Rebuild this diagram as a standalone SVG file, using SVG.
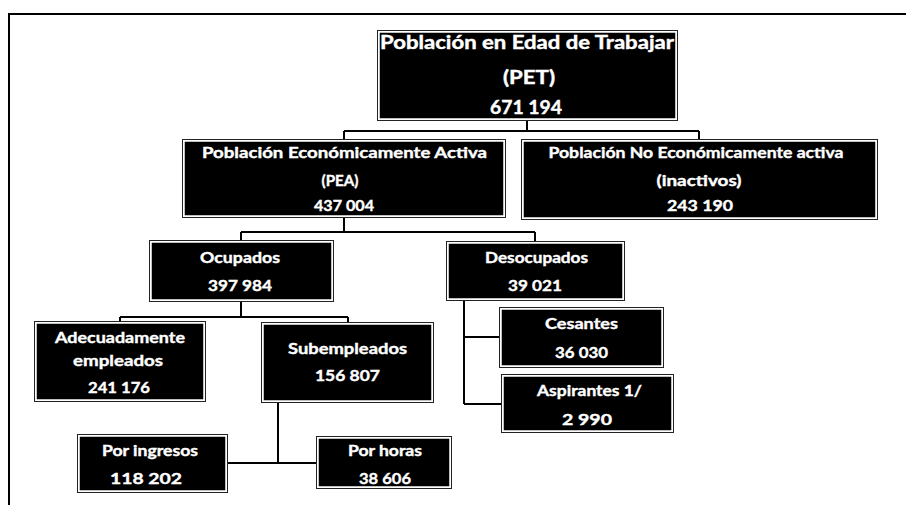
<svg xmlns="http://www.w3.org/2000/svg" width="906" height="505" viewBox="0 0 906 505">
<style>
.frame{fill:none;stroke:#000;stroke-width:2}
.outer{fill:none;stroke:#222;stroke-width:1}
.box{fill:#000;stroke:#fff;stroke-width:1.5}
.t{font-family:Lato,"Liberation Sans",sans-serif;font-weight:bold;font-size:16px;fill:#fff;stroke:#fff;stroke-width:0.4;text-anchor:middle}
.big{font-size:18px}
.conn{fill:none;stroke:#000;stroke-width:2}
</style>
<rect width="906" height="505" fill="#fff"/>
<path class="frame" d="M9,505 V14 H906"/>
<g id="connectors">
<path class="conn" d="M527,120 V131 M344,131 H699 M344,131 V140 M699,131 V140"/>
<path class="conn" d="M344,217 V232 M241,232 H535 M241,232 V241 M535,232 V242"/>
<path class="conn" d="M241,301 V317 M120,317 H348 M120,317 V322 M348,317 V323"/>
<path class="conn" d="M278,403 V463 M227,463 H317"/>
<path class="conn" d="M464,300 V404 M464,337 H500 M464,404 H502"/>
</g>
<g id="pet">
<rect class="outer" x="377.5" y="30.5" width="300" height="90"/>
<rect class="box" x="379" y="32" width="297" height="87"/>
<text class="t big" x="527" y="49" textLength="294" lengthAdjust="spacingAndGlyphs">Población en Edad de Trabajar</text>
<text class="t big" x="529" y="84" textLength="52" lengthAdjust="spacingAndGlyphs">(PET)</text>
<text class="t big" x="526" y="114" textLength="72" lengthAdjust="spacingAndGlyphs">671 194</text>
</g>
<g id="pea">
<rect class="outer" x="182.5" y="139.5" width="323" height="78"/>
<rect class="box" x="184" y="141" width="320" height="75"/>
<text class="t" x="344.5" y="158" textLength="285" lengthAdjust="spacingAndGlyphs">Población Económicamente Activa</text>
<text class="t" x="340" y="186" textLength="37" lengthAdjust="spacingAndGlyphs">(PEA)</text>
<text class="t" x="344" y="211" textLength="60" lengthAdjust="spacingAndGlyphs">437 004</text>
</g>
<g id="nea">
<rect class="outer" x="521.5" y="139.5" width="356" height="80"/>
<rect class="box" x="523" y="141" width="353" height="77"/>
<text class="t" x="696" y="158" textLength="295" lengthAdjust="spacingAndGlyphs">Población No Económicamente activa</text>
<text class="t" x="699" y="186" textLength="85" lengthAdjust="spacingAndGlyphs">(inactivos)</text>
<text class="t" x="700" y="211" textLength="66" lengthAdjust="spacingAndGlyphs">243 190</text>
</g>
<g id="ocupados">
<rect class="outer" x="149.5" y="240.5" width="184" height="61"/>
<rect class="box" x="151" y="242" width="181" height="58"/>
<text class="t" x="240" y="263" textLength="80" lengthAdjust="spacingAndGlyphs">Ocupados</text>
<text class="t" x="240" y="291" textLength="64" lengthAdjust="spacingAndGlyphs">397 984</text>
</g>
<g id="desocupados">
<rect class="outer" x="446.5" y="241.5" width="178" height="59"/>
<rect class="box" x="448" y="243" width="175" height="56"/>
<text class="t" x="536.5" y="263" textLength="103" lengthAdjust="spacingAndGlyphs">Desocupados</text>
<text class="t" x="535" y="291" textLength="54" lengthAdjust="spacingAndGlyphs">39 021</text>
</g>
<g id="adecuadamente">
<rect class="outer" x="34.5" y="321.5" width="171" height="80"/>
<rect class="box" x="36" y="323" width="168" height="77"/>
<text class="t" x="120" y="343" textLength="130" lengthAdjust="spacingAndGlyphs">Adecuadamente</text>
<text class="t" x="118" y="366" textLength="90" lengthAdjust="spacingAndGlyphs">empleados</text>
<text class="t" x="119" y="393" textLength="62" lengthAdjust="spacingAndGlyphs">241 176</text>
</g>
<g id="subempleados">
<rect class="outer" x="261.5" y="322.5" width="172" height="80"/>
<rect class="box" x="263" y="324" width="169" height="77"/>
<text class="t" x="347.5" y="354" textLength="119" lengthAdjust="spacingAndGlyphs">Subempleados</text>
<text class="t" x="347.5" y="381" textLength="65" lengthAdjust="spacingAndGlyphs">156 807</text>
</g>
<g id="cesantes">
<rect class="outer" x="499.5" y="307.5" width="164" height="60"/>
<rect class="box" x="501" y="309" width="161" height="57"/>
<text class="t" x="581.5" y="329" textLength="73" lengthAdjust="spacingAndGlyphs">Cesantes</text>
<text class="t" x="581.5" y="358" textLength="53" lengthAdjust="spacingAndGlyphs">36 030</text>
</g>
<g id="aspirantes">
<rect class="outer" x="501.5" y="374.5" width="172" height="58"/>
<rect class="box" x="503" y="376" width="169" height="55"/>
<text class="t" x="589.5" y="396" textLength="105" lengthAdjust="spacingAndGlyphs">Aspirantes 1/</text>
<text class="t" x="587" y="425" textLength="50" lengthAdjust="spacingAndGlyphs">2 990</text>
</g>
<g id="por-ingresos">
<rect class="outer" x="77.5" y="434.5" width="150" height="58"/>
<rect class="box" x="79" y="436" width="147" height="55"/>
<text class="t" x="150" y="456" textLength="96" lengthAdjust="spacingAndGlyphs">Por ingresos</text>
<text class="t" x="146" y="484" textLength="72" lengthAdjust="spacingAndGlyphs">118 202</text>
</g>
<g id="por-horas">
<rect class="outer" x="316.5" y="436.5" width="135" height="52"/>
<rect class="box" x="318" y="438" width="132" height="49"/>
<text class="t" x="385" y="456" textLength="74" lengthAdjust="spacingAndGlyphs">Por horas</text>
<text class="t" x="385" y="484" textLength="52" lengthAdjust="spacingAndGlyphs">38 606</text>
</g>
</svg>
